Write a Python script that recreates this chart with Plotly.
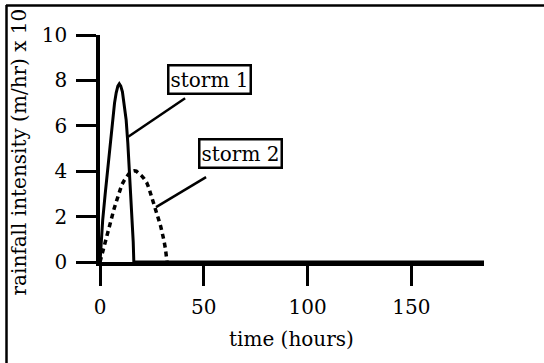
import plotly.graph_objects as go

# ---- data ----
time_storm1 = [0, 0.6, 1.3, 2.5, 3.7, 4.9, 6.0, 7.0, 7.8, 8.6, 9.3, 10.0, 10.8, 11.7, 12.6, 13.4,
               14.2, 14.9, 15.5, 16.0, 16.3, 185]
rain_storm1 = [0, 0.9, 1.85, 3.0, 4.05, 5.2, 6.26, 7.0, 7.45, 7.75, 7.85, 7.75, 7.5, 6.95, 6.26, 5.25,
               4.05, 2.95, 1.85, 0.9, 0, 0]

time_storm2 = [0, 1.5, 3, 4.3, 5.6, 6.8, 8, 9.2, 10.5, 11.8, 13, 14.2, 15.5, 16.5, 17.5, 18.8, 20,
               21.2, 22.5, 23.5, 24.5, 25.5, 26.5, 27.5, 28.5, 29.3, 30, 30.8, 31.5, 32.3]
rain_storm2 = [0, 0.55, 1.1, 1.55, 2.0, 2.35, 2.7, 3.05, 3.4, 3.62, 3.8, 3.92, 4.0, 4.02, 4.0, 3.92, 3.8,
               3.67, 3.5, 3.27, 3.0, 2.72, 2.4, 2.1, 1.8, 1.55, 1.3, 0.95, 0.6, 0]

x_ticks = [0, 50, 100, 150]
y_ticks = [0, 2, 4, 6, 8, 10]

label_storm1 = "storm 1"
label_storm2 = "storm 2"
x_title = "time (hours)"
y_title = "rainfall intensity (m/hr) x 10"

# ---- layout geometry ----
W, H = 544, 363
ML, MR, MT, MB = 100, 60, 35, 101
PW, PH = W - ML - MR, H - MT - MB

def px_x(px):
    return (px - ML) / PW

def px_y(py):
    return (H - MB - py) / PH

FONT = "DejaVu Serif"

fig = go.Figure()
fig.add_trace(go.Scatter(x=time_storm1, y=rain_storm1, mode="lines",
                         line=dict(color="black", width=3),
                         showlegend=False, hoverinfo="skip"))
fig.add_trace(go.Scatter(x=time_storm2, y=rain_storm2, mode="lines",
                         line=dict(color="black", width=3.5, dash="5px,4px"),
                         showlegend=False, hoverinfo="skip"))

axis_common = dict(showgrid=False, zeroline=False, showline=True, linecolor="black",
                   linewidth=3.5, ticks="outside", ticklen=20, tickwidth=3, tickcolor="black",
                   tickfont=dict(family=FONT, size=20, color="black"), mirror=False)

fig.update_xaxes(range=[0, 185], tickvals=x_ticks, ticktext=[str(v) for v in x_ticks],
                 ticklabelstandoff=4, **axis_common)
fig.update_yaxes(range=[0, 10], tickvals=y_ticks, ticktext=[str(v) for v in y_ticks],
                 ticklabelstandoff=5, **axis_common)

annotations = [
    dict(x=52.6, y=8.06, xref="x", yref="y", text=label_storm1, showarrow=False,
         font=dict(family=FONT, size=20, color="black"), bordercolor="black",
         borderwidth=2.5, borderpad=1, bgcolor="white"),
    dict(x=67.5, y=4.78, xref="x", yref="y", text=label_storm2, showarrow=False,
         font=dict(family=FONT, size=20, color="black"), bordercolor="black",
         borderwidth=2.5, borderpad=1, bgcolor="white"),
    dict(x=px_x(291), y=px_y(339), xref="paper", yref="paper", text=x_title,
         showarrow=False, font=dict(family=FONT, size=20, color="black"),
         xanchor="center", yanchor="middle"),
    dict(x=px_x(18.5), y=px_y(152), xref="paper", yref="paper", text=y_title,
         showarrow=False, textangle=-90, font=dict(family=FONT, size=20, color="black"),
         xanchor="center", yanchor="middle"),
]

shapes = [
    # leader lines
    dict(type="line", xref="x", yref="y", x0=41, y0=7.21, x1=13.6, y1=5.52,
         line=dict(color="black", width=2.5)),
    dict(type="line", xref="x", yref="y", x0=51.1, y0=3.74, x1=27, y1=2.42,
         line=dict(color="black", width=2.5)),
    # frame (top and left edges of the scanned figure)
    dict(type="line", xref="paper", yref="paper", x0=px_x(6), y0=px_y(5.5), x1=px_x(546), y1=px_y(5.5),
         line=dict(color="black", width=2.5)),
    dict(type="line", xref="paper", yref="paper", x0=px_x(6.5), y0=px_y(5), x1=px_x(6.5), y1=px_y(366),
         line=dict(color="black", width=2.5)),
]

fig.update_layout(width=W, height=H, margin=dict(l=ML, r=MR, t=MT, b=MB),
                  paper_bgcolor="white", plot_bgcolor="white",
                  annotations=annotations, shapes=shapes, showlegend=False)

fig.write_html("out.html")
